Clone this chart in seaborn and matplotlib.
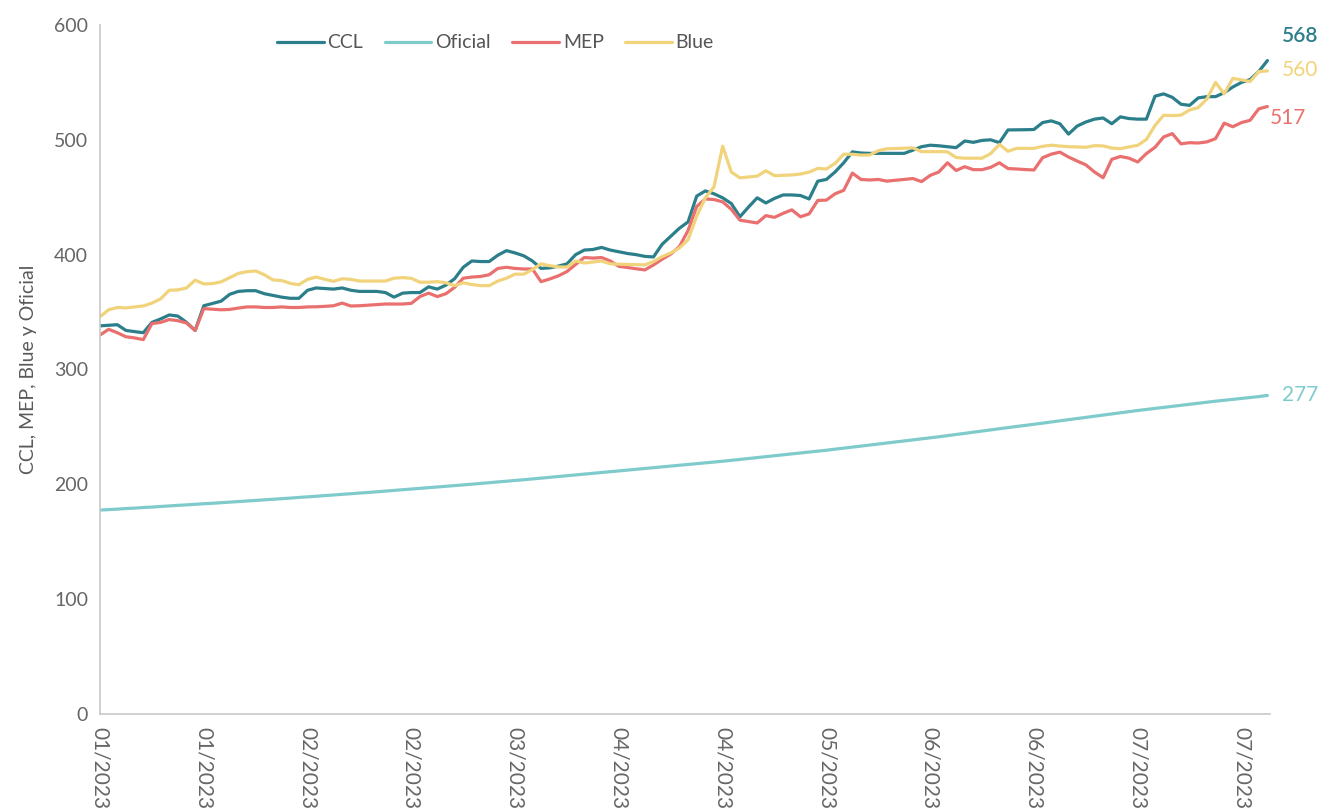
import pandas as pd
import matplotlib
matplotlib.use("Agg")
import matplotlib.pyplot as plt
import seaborn as sns

# daily rates, trading day index 0..135 (jan to jul 2023)
ccl = [338, 338.5, 339, 334, 333, 332, 341, 344, 347.5, 346.5, 341, 334,
       355.5, 357.5, 359.5, 365.5, 368, 368.6, 368.6, 366, 364.5, 363, 362, 362,
       369, 371, 370.5, 370, 371, 369, 368, 368, 368, 367, 363, 366.5,
       367, 367, 372, 370, 373.5, 379, 389, 394.5, 394, 394, 399.5, 403.5,
       401.5, 399, 394.5, 388, 388.5, 390, 392, 400, 404, 404.5, 406.3, 404,
       402.5, 401, 400, 398.5, 398, 409, 416, 423, 428.5, 451, 455.5, 453,
       449.5, 444.5, 433, 441.5, 449.5, 445, 449, 452, 452, 451.5, 448.5, 464,
       465.5, 472, 480, 489.5, 488.5, 488.2, 488.2, 488.2, 488.2, 488.2, 491, 494,
       495.3, 494.8, 494, 493.2, 499, 497.8, 499.5, 500, 497.5, 508.6, 508.7, 508.8,
       509, 515, 516.5, 514, 505, 512, 515.5, 518, 519, 514, 520, 518.5,
       518, 518, 538, 540, 537, 531, 530, 536.5, 537.6, 537.6, 541, 546,
       550, 552.5, 559.5, 569]

oficial = [177.6, 178.0, 178.4, 178.9, 179.3, 179.8, 180.2, 180.7, 181.2, 181.7, 182.1, 182.6,
           183.1, 183.5, 184.0, 184.5, 185.0, 185.5, 186.0, 186.5, 187.0, 187.5, 188.0, 188.6,
           189.1, 189.6, 190.2, 190.7, 191.3, 191.8, 192.4, 192.9, 193.5, 194.1, 194.7, 195.3,
           195.9, 196.5, 197.1, 197.7, 198.3, 198.9, 199.5, 200.1, 200.8, 201.4, 202.1, 202.7,
           203.4, 204.0, 204.7, 205.4, 206.1, 206.8, 207.5, 208.2, 208.9, 209.6, 210.3, 211.0,
           211.7, 212.4, 213.1, 213.8, 214.5, 215.2, 215.9, 216.6, 217.3, 218.0, 218.7, 219.4,
           220.1, 220.9, 221.7, 222.5, 223.3, 224.1, 224.9, 225.7, 226.5, 227.3, 228.1, 228.9,
           229.7, 230.6, 231.5, 232.4, 233.3, 234.2, 235.1, 236.0, 236.9, 237.8, 238.7, 239.6,
           240.5, 241.4, 242.4, 243.4, 244.4, 245.4, 246.4, 247.4, 248.4, 249.4, 250.4, 251.3,
           252.3, 253.3, 254.3, 255.3, 256.3, 257.3, 258.3, 259.3, 260.3, 261.3, 262.3, 263.3,
           264.3, 265.2, 266.1, 267.0, 267.9, 268.8, 269.7, 270.6, 271.5, 272.4, 273.2, 274.0,
           274.8, 275.6, 276.4, 277.4]

mep = [330, 335, 332, 328.5, 327.5, 326, 340, 341, 343.5, 342.5, 340.5, 334,
       353, 352.5, 352, 352.3, 353.5, 354.5, 354.5, 354, 354, 354.5, 354, 354,
       354.5, 354.6, 355, 355.5, 357.8, 355.3, 355.5, 356, 356.5, 357, 357, 357,
       357.6, 363.5, 366.5, 363.5, 366, 371.5, 379.5, 380.5, 381, 382.5, 388, 389,
       388, 387.5, 387.5, 376.5, 378.8, 381.5, 385.3, 391.5, 397.5, 397, 397.5, 394.5,
       389.8, 388.8, 387.7, 386.7, 391, 396, 400.5, 407, 421, 442, 448.5, 448,
       446, 439.5, 430, 428.8, 427.6, 434, 432.5, 436, 439, 433, 435.5, 447.2,
       447.5, 453, 456, 471, 465.5, 465, 465.5, 464, 464.8, 465.5, 466.3, 463.6,
       469, 472, 480, 473.3, 476.6, 474, 474, 476, 480, 475, 474.6, 474.1,
       473.7, 484.4, 487.5, 489.3, 485, 481.5, 478.2, 472, 467, 483, 485.5, 484,
       480.7, 488, 493.5, 502.5, 505.4, 496.5, 497.5, 497.2, 498.2, 501, 514.5, 511.4,
       515, 517, 527, 529]

blue = [346, 352, 354, 353.6, 354.5, 355.3, 357.8, 361.5, 369, 369.3, 371, 377.8,
        374.5, 374.8, 376.3, 380, 383.7, 385.2, 385.8, 382.5, 378, 377.5, 375, 373.8,
        378.5, 380.5, 378.5, 376.8, 379, 378.5, 377, 377, 377, 377, 379.5, 380,
        379.4, 376, 376, 376.5, 375.5, 373, 375.5, 374, 373, 373, 377, 379.5,
        383, 383, 387, 392, 390.4, 389.3, 389.2, 394.5, 392.7, 393.6, 394.5, 392,
        391.7, 391.5, 391.3, 391.1, 394, 398.3, 401.5, 405.8, 413, 433.5, 449.5, 459,
        494.5, 472, 466.9, 467.6, 468.4, 473, 468.8, 469.1, 469.4, 470.2, 471.9, 475.1,
        474.6, 479.5, 487.5, 487.4, 486.7, 486.8, 490.5, 492.2, 492.4, 492.7, 493, 489.7,
        489.7, 489.7, 489.5, 484.6, 484, 484, 484, 488, 496, 490, 492.6, 492.6,
        492.6, 494.3, 495.3, 494.6, 494, 493.8, 493.5, 494.9, 494.7, 492.8, 492.3, 493.8,
        495.2, 500.3, 512.5, 521.4, 521.1, 521.5, 526, 528, 535.5, 550, 540, 553.5,
        552.2, 550.8, 559.5, 560]

series_names = ["CCL", "Oficial", "MEP", "Blue"]
colors = {"CCL": "#2b7f8b", "Oficial": "#7fcbcc", "MEP": "#e9706e", "Blue": "#f1d37b"}

tick_days = [0, 12, 24, 36, 48, 60, 72, 84, 96, 108, 120, 132]
tick_labels = ["01/2023", "01/2023", "02/2023", "02/2023", "03/2023", "04/2023",
               "04/2023", "05/2023", "06/2023", "06/2023", "07/2023", "07/2023"]

# end labels: text, y position, colour key
end_labels = [("568", 590, "CCL"), ("560", 561, "Blue"), ("517", 519, "MEP"), ("277", 278, "Oficial")]

days = list(range(len(ccl)))
df = pd.DataFrame({"dia": days, "CCL": ccl, "Oficial": oficial, "MEP": mep, "Blue": blue})
long = df.melt(id_vars="dia", var_name="serie", value_name="valor")

sns.set_style("white")
plt.rcParams["font.family"] = ["Lato", "DejaVu Sans"]

fig = plt.figure(figsize=(13.25, 8.11), dpi=100)
ax = fig.add_axes([0.0755, 0.1196, 0.8830, 0.8496])

sns.lineplot(data=long, x="dia", y="valor", hue="serie", hue_order=series_names,
             palette=colors, linewidth=2.3, ax=ax)

ax.set_xlim(0, 135.3)
ax.set_ylim(0, 600)
ax.set_yticks(range(0, 601, 100))
ax.set_xticks(tick_days)
ax.set_xticklabels(tick_labels, rotation=-90, fontsize=15, color="#666666")
ax.tick_params(axis="y", labelsize=14, labelcolor="#666666", length=5, color="#c8c8c8", width=1)
ax.tick_params(axis="x", length=5, color="#c8c8c8", width=1, pad=4)
ax.set_xlabel("")
ax.set_ylabel("CCL, MEP, Blue y Oficial", fontsize=14, color="#5a5a5a", labelpad=12)

for side in ["top", "right"]:
    ax.spines[side].set_visible(False)
for side in ["left", "bottom"]:
    ax.spines[side].set_color("#c8c8c8")
    ax.spines[side].set_linewidth(1.2)

ax.legend(loc="center", bbox_to_anchor=(0.338, 0.974), ncol=4, frameon=False,
          fontsize=14, handlelength=2.4, handletextpad=0.2, columnspacing=1.1,
          labelcolor="#555555")

for txt, y, key in end_labels:
    xpos = days[-1] + (0.3 if txt == "517" else 1.7)
    ax.text(xpos, y, txt, color=colors[key], fontsize=15, va="center", ha="left",
            fontweight="semibold" if txt == "568" else "normal", clip_on=False)

fig.savefig("out.png", dpi=100)
